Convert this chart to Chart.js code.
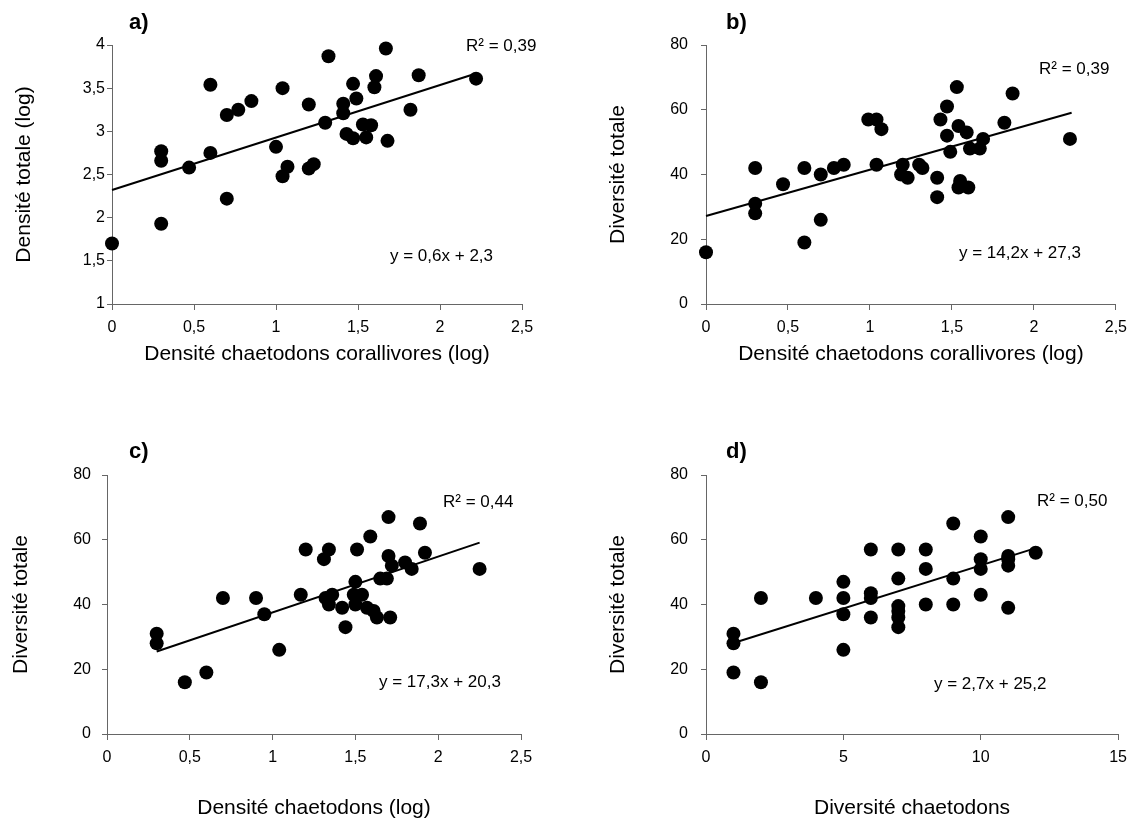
<!DOCTYPE html>
<html>
<head>
<meta charset="utf-8">
<script src="https://cdn.jsdelivr.net/npm/chart.js@4.4.1/dist/chart.umd.min.js"></script>
<style>
    body { margin: 0; background: #fff; }
    #page { position: relative; width: 1135px; height: 821px; overflow: hidden; }
    canvas { position: absolute; }
    .txt { position: absolute; white-space: nowrap; line-height: 1; font-family: "Liberation Sans", Arial, sans-serif; font-size: 17px; color: #000; }
    .lettre { font-weight: bold; font-size: 22px; }
</style>
</head>
<body>
<div id="page">
    <canvas id="chartA" width="567" height="380" style="left:0;top:0"></canvas>
    <canvas id="chartB" width="568" height="380" style="left:567px;top:0"></canvas>
    <canvas id="chartC" width="567" height="411" style="left:0;top:410px"></canvas>
    <canvas id="chartD" width="568" height="411" style="left:567px;top:410px"></canvas>

    <div class="txt lettre" style="left:129px;top:11px">a)</div>
    <div class="txt" style="left:466px;top:37px">R² = 0,39</div>
    <div class="txt" style="left:390px;top:247px">y = 0,6x + 2,3</div>

    <div class="txt lettre" style="left:726px;top:11px">b)</div>
    <div class="txt" style="left:1039px;top:60px">R² = 0,39</div>
    <div class="txt" style="left:959px;top:244px">y = 14,2x + 27,3</div>

    <div class="txt lettre" style="left:129px;top:440px">c)</div>
    <div class="txt" style="left:443px;top:493px">R² = 0,44</div>
    <div class="txt" style="left:379px;top:673px">y = 17,3x + 20,3</div>

    <div class="txt lettre" style="left:726px;top:440px">d)</div>
    <div class="txt" style="left:1037px;top:492px">R² = 0,50</div>
    <div class="txt" style="left:934px;top:675px">y = 2,7x + 25,2</div>
</div>

<script>
// a) densité totale vs densité chaetodons corallivores
const xA = [0, 0.30, 0.30, 0.30, 0.47, 0.60, 0.60, 0.70, 0.70, 0.77, 0.85, 1.00, 1.04, 1.04, 1.07, 1.20, 1.20, 1.23,
    1.32, 1.30, 1.41, 1.41, 1.43, 1.47, 1.47, 1.49, 1.53, 1.55, 1.58, 1.61, 1.60, 1.67, 1.68, 1.82, 1.87, 2.22];
const yA = [1.70, 2.77, 2.66, 1.93, 2.58, 3.54, 2.75, 3.19, 2.22, 3.25, 3.35, 2.82, 3.50, 2.48, 2.59, 3.31, 2.57, 2.62,
    3.87, 3.10, 3.32, 3.21, 2.97, 3.55, 2.92, 3.38, 3.08, 2.93, 3.07, 3.64, 3.51, 3.96, 2.89, 3.25, 3.65, 3.61];
const tendanceA = [[0, 2.32], [2.22, 3.67]];

// b) diversité totale vs densité chaetodons corallivores
const xB = [0, 0.30, 0.30, 0.30, 0.47, 0.60, 0.60, 0.70, 0.70, 0.78, 0.84, 0.99, 1.04, 1.07, 1.04, 1.20, 1.19, 1.23, 1.30,
    1.32, 1.41, 1.41, 1.43, 1.47, 1.47, 1.49, 1.53, 1.54, 1.59, 1.55, 1.54, 1.60, 1.61, 1.67, 1.69, 1.82, 1.87, 2.22];
const yB = [16, 42, 31, 28, 37, 42, 19, 40, 26, 42, 43, 57, 57, 54, 43, 43, 40, 39, 43,
    42, 39, 33, 57, 61, 52, 47, 67, 55, 53, 38, 36, 36, 48, 48, 51, 56, 65, 51];
const tendanceB = [[0, 27.2], [2.23, 59.1]];

// c) diversité totale vs densité chaetodons
const xC = [0.30, 0.30, 0.47, 0.60, 0.70, 0.90, 0.95, 1.04, 1.17, 1.20, 1.31, 1.34, 1.32, 1.34, 1.36, 1.42, 1.44, 1.51, 1.50,
    1.49, 1.54, 1.50, 1.57, 1.61, 1.63, 1.59, 1.65, 1.69, 1.70, 1.70, 1.72, 1.71, 1.80, 1.84, 1.89, 1.92, 2.25];
const yC = [31, 28, 16, 19, 42, 42, 37, 26, 43, 57, 54, 57, 42, 40, 43, 39, 33, 57, 47,
    43, 43, 40, 39, 38, 36, 61, 48, 48, 67, 55, 52, 36, 53, 51, 65, 56, 51];
const tendanceC = [[0.30, 25.5], [2.25, 59.1]];

// d) diversité totale vs diversité chaetodons
const xD = [1, 1, 1, 2, 2, 4, 5, 5, 5, 5, 6, 6, 6, 6, 7, 7, 7, 7, 7, 7,
    8, 8, 8, 9, 9, 9, 10, 10, 10, 10, 11, 11, 11, 11, 11, 12];
const yD = [31, 28, 19, 42, 16, 42, 47, 42, 37, 26, 57, 43.5, 42, 36, 57, 48, 39.5, 38, 36, 33,
    57, 51, 40, 65, 48, 40, 61, 54, 51, 43, 67, 55, 54, 52, 39, 56];
const tendanceD = [[1, 28.1], [12, 57.4]];

const ticksLog = [0, 0.5, 1, 1.5, 2, 2.5];

Chart.defaults.font.family = '"Liberation Sans", Arial, sans-serif';
Chart.defaults.color = '#000';

const couleurAxe = '#666';

function virgule(v) {
    return String(v).replace('.', ',');
}

function creerGraphique(id, xs, ys, tendance, cfg) {
    const points = xs.map((x, i) => ({ x: x, y: ys[i] }));
    const ligne = tendance.map(p => ({ x: p[0], y: p[1] }));

    return new Chart(document.getElementById(id), {
        type: 'scatter',
        data: {
            datasets: [{
                data: points,
                backgroundColor: '#000',
                borderWidth: 0,
                pointRadius: 7,
                clip: false
            }, {
                type: 'line',
                data: ligne,
                borderColor: '#000',
                borderWidth: 2,
                pointRadius: 0,
                fill: false,
                clip: false
            }]
        },
        options: {
            responsive: false,
            animation: false,
            events: [],
            layout: {
                padding: { top: cfg.haut, right: cfg.droite, left: 0, bottom: 0 }
            },
            plugins: {
                legend: { display: false },
                tooltip: { enabled: false }
            },
            scales: {
                x: {
                    type: 'linear',
                    min: cfg.xMin,
                    max: cfg.xMax,
                    afterBuildTicks: s => { s.ticks = cfg.xTicks.map(v => ({ value: v })); },
                    ticks: {
                        font: { size: 16 },
                        padding: 8,
                        maxRotation: 0,
                        callback: v => virgule(v)
                    },
                    grid: { drawOnChartArea: false, tickLength: 6, color: couleurAxe, tickColor: couleurAxe },
                    border: { color: couleurAxe, width: 1 },
                    title: {
                        display: true,
                        text: cfg.xTitre,
                        font: { size: 21 },
                        padding: { top: 0, bottom: cfg.xTitrePad }
                    },
                    afterFit: s => { s.height = cfg.xHauteur; }
                },
                y: {
                    type: 'linear',
                    min: cfg.yMin,
                    max: cfg.yMax,
                    ticks: {
                        stepSize: cfg.yPas,
                        font: { size: 16 },
                        padding: cfg.yTickPad,
                        callback: v => virgule(v)
                    },
                    grid: { drawOnChartArea: false, tickLength: 5, color: couleurAxe, tickColor: couleurAxe },
                    border: { color: couleurAxe, width: 1 },
                    title: {
                        display: true,
                        text: cfg.yTitre,
                        font: { size: 21 },
                        padding: { top: cfg.yTitrePad, bottom: 0 }
                    },
                    afterFit: s => { s.width = cfg.yLargeur; }
                }
            }
        }
    });
}

creerGraphique('chartA', xA, yA, tendanceA, {
    haut: 45, droite: 45, xHauteur: 76, yLargeur: 112,
    xMin: 0, xMax: 2.5, xTicks: ticksLog, yMin: 1, yMax: 4, yPas: 0.5,
    xTitre: 'Densité chaetodons corallivores (log)', yTitre: 'Densité totale (log)',
    xTitrePad: 13, yTitrePad: 12, yTickPad: 2
});

creerGraphique('chartB', xB, yB, tendanceB, {
    haut: 45, droite: 16, xHauteur: 76, yLargeur: 139,
    xMin: 0, xMax: 2.5, xTicks: ticksLog, yMin: 0, yMax: 80, yPas: 20,
    xTitre: 'Densité chaetodons corallivores (log)', yTitre: 'Diversité totale',
    xTitrePad: 13, yTitrePad: 39, yTickPad: 13
});

creerGraphique('chartC', xC, yC, tendanceC, {
    haut: 65, droite: 46, xHauteur: 87, yLargeur: 107,
    xMin: 0, xMax: 2.5, xTicks: ticksLog, yMin: 0, yMax: 80, yPas: 20,
    xTitre: 'Densité chaetodons (log)', yTitre: 'Diversité totale',
    xTitrePad: 0, yTitrePad: 9, yTickPad: 11
});

creerGraphique('chartD', xD, yD, tendanceD, {
    haut: 65, droite: 16, xHauteur: 87, yLargeur: 139,
    xMin: 0, xMax: 15, xTicks: [0, 5, 10, 15], yMin: 0, yMax: 80, yPas: 20,
    xTitre: 'Diversité chaetodons', yTitre: 'Diversité totale',
    xTitrePad: 0, yTitrePad: 39, yTickPad: 13
});
</script>
</body>
</html>
